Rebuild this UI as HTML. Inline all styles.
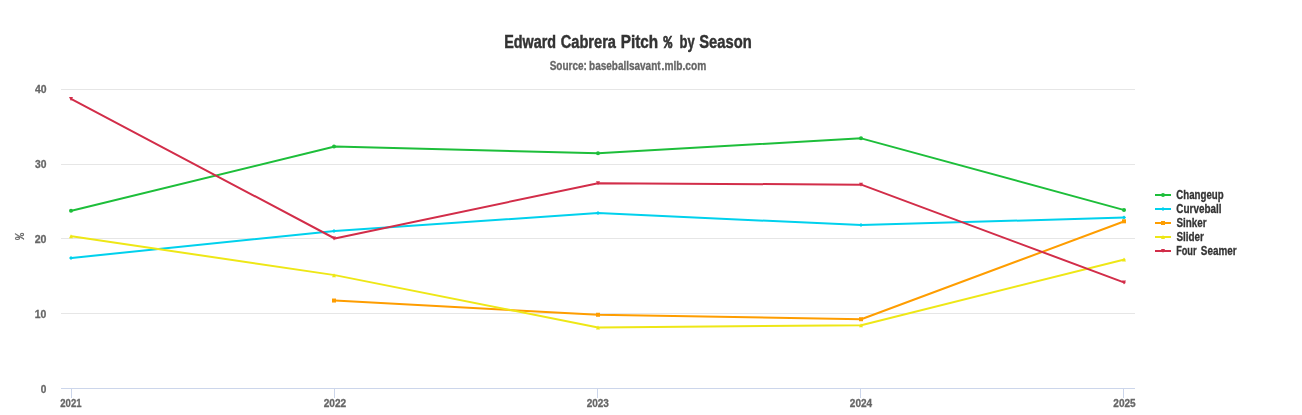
<!DOCTYPE html>
<html lang="en"><head><meta charset="utf-8"><title>Edward Cabrera Pitch % by Season</title>
<style>
html,body{margin:0;padding:0;background:#fff;}
body{width:1302px;height:415px;overflow:hidden;}
svg{display:block;font-family:"Liberation Sans",sans-serif;font-weight:bold;}
.t{font-size:18px;fill:#333333;stroke:#333333;stroke-width:0.45px;}
.s{font-size:12px;fill:#666666;stroke:#666666;stroke-width:0.3px;}
.a{font-size:11.1px;fill:#666666;stroke:#666666;stroke-width:0.3px;}
.l{font-size:12px;fill:#333333;stroke:#333333;stroke-width:0.3px;}
</style></head><body>
<svg width="1302" height="415" viewBox="0 0 1302 415">
<rect x="0" y="0" width="1302" height="415" fill="#ffffff"/>
<path d="M61 89.5L1135 89.5" stroke="#e6e6e6" stroke-width="1" fill="none"/>
<path d="M61 164.5L1135 164.5" stroke="#e6e6e6" stroke-width="1" fill="none"/>
<path d="M61 238.5L1135 238.5" stroke="#e6e6e6" stroke-width="1" fill="none"/>
<path d="M61 313.5L1135 313.5" stroke="#e6e6e6" stroke-width="1" fill="none"/>
<path d="M61 388.5L1135 388.5" stroke="#ccd6eb" stroke-width="1" fill="none"/>
<path d="M71.5 388L71.5 398" stroke="#ccd6eb" stroke-width="1" fill="none"/>
<path d="M334.5 388L334.5 398" stroke="#ccd6eb" stroke-width="1" fill="none"/>
<path d="M597.5 388L597.5 398" stroke="#ccd6eb" stroke-width="1" fill="none"/>
<path d="M860.5 388L860.5 398" stroke="#ccd6eb" stroke-width="1" fill="none"/>
<path d="M1123.5 388L1123.5 398" stroke="#ccd6eb" stroke-width="1" fill="none"/>
<text class="t" y="47.65" ><tspan x="504.26" textLength="51.86" lengthAdjust="spacingAndGlyphs">Edward</tspan> <tspan x="560.73" textLength="55.26" lengthAdjust="spacingAndGlyphs">Cabrera</tspan> <tspan x="620.80" textLength="37.42" lengthAdjust="spacingAndGlyphs">Pitch</tspan> <tspan x="663.55" textLength="8.69" lengthAdjust="spacingAndGlyphs" style="stroke-width:0.7px;font-family:'Liberation Mono',monospace">%</tspan> <tspan x="679.57" textLength="15.18" lengthAdjust="spacingAndGlyphs">by</tspan> <tspan x="699.20" textLength="52.49" lengthAdjust="spacingAndGlyphs">Season</tspan></text>
<text class="s" y="69.7" ><tspan x="549.66" textLength="37.25" lengthAdjust="spacingAndGlyphs">Source:</tspan> <tspan x="589.09" textLength="71.48" lengthAdjust="spacingAndGlyphs">baseballsavant</tspan><tspan x="661.56" textLength="44.72" lengthAdjust="spacingAndGlyphs">.mlb.com</tspan></text>
<text class="s" style="font-family:'Liberation Mono',monospace;font-size:13.5px;stroke-width:0.15px" transform="translate(24.25,240.05) rotate(-90)" x="0" y="0" textLength="7.2" lengthAdjust="spacingAndGlyphs">%</text>
<text class="a" y="93" ><tspan x="34.89" textLength="11.58" lengthAdjust="spacingAndGlyphs">40</tspan></text>
<text class="a" y="168" ><tspan x="34.91" textLength="11.46" lengthAdjust="spacingAndGlyphs">30</tspan></text>
<text class="a" y="243" ><tspan x="34.68" textLength="11.80" lengthAdjust="spacingAndGlyphs">20</tspan></text>
<text class="a" y="318" ><tspan x="34.79" textLength="11.58" lengthAdjust="spacingAndGlyphs">10</tspan></text>
<text class="a" y="393" ><tspan x="40.75" textLength="5.61" lengthAdjust="spacingAndGlyphs">0</tspan></text>
<text class="a" y="407" ><tspan x="60.32" textLength="21.20" lengthAdjust="spacingAndGlyphs">2021</tspan></text>
<text class="a" y="407" ><tspan x="323.65" textLength="22.51" lengthAdjust="spacingAndGlyphs">2022</tspan></text>
<text class="a" y="407" ><tspan x="586.65" textLength="22.31" lengthAdjust="spacingAndGlyphs">2023</tspan></text>
<text class="a" y="407" ><tspan x="849.80" textLength="22.35" lengthAdjust="spacingAndGlyphs">2024</tspan></text>
<text class="a" y="407" ><tspan x="1113.30" textLength="22.33" lengthAdjust="spacingAndGlyphs">2025</tspan></text>
<path d="M71.53 210.84L334.76 146.56L598.0 153.29L861.24 138.34L1124.47 210.09" stroke="#1DBE3A" stroke-width="2" fill="none" stroke-linejoin="round" stroke-linecap="round"/>
<circle cx="71" cy="210.84" r="2" fill="#1DBE3A"/>
<circle cx="334" cy="146.56" r="2" fill="#1DBE3A"/>
<circle cx="598" cy="153.29" r="2" fill="#1DBE3A"/>
<circle cx="861" cy="138.34" r="2" fill="#1DBE3A"/>
<circle cx="1124" cy="210.09" r="2" fill="#1DBE3A"/>
<path d="M71.53 257.94L334.76 231.03L598.0 213.09L861.24 225.05L1124.47 217.57" stroke="#00D1ED" stroke-width="2" fill="none" stroke-linejoin="round" stroke-linecap="round"/>
<path d="M71 255.94L73 257.94L71 259.94L69 257.94Z" fill="#00D1ED"/>
<path d="M334 229.03L336 231.03L334 233.03L332 231.03Z" fill="#00D1ED"/>
<path d="M598 211.09L600 213.09L598 215.09L596 213.09Z" fill="#00D1ED"/>
<path d="M861 223.05L863 225.05L861 227.05L859 225.05Z" fill="#00D1ED"/>
<path d="M1124 215.57L1126 217.57L1124 219.57L1122 217.57Z" fill="#00D1ED"/>
<path d="M334.76 300.54L598.0 314.75L861.24 319.23L1124.47 221.31" stroke="#FE9D00" stroke-width="2" fill="none" stroke-linejoin="round" stroke-linecap="round"/>
<rect x="332" y="298.54" width="4" height="4" fill="#FE9D00"/>
<rect x="596" y="312.75" width="4" height="4" fill="#FE9D00"/>
<rect x="859" y="317.23" width="4" height="4" fill="#FE9D00"/>
<rect x="1122" y="219.31" width="4" height="4" fill="#FE9D00"/>
<path d="M71.53 236.26L334.76 275.13L598.0 327.45L861.24 325.21L1124.47 259.43" stroke="#EEE716" stroke-width="2" fill="none" stroke-linejoin="round" stroke-linecap="round"/>
<path d="M71 234.26L73 238.26L69 238.26Z" fill="#EEE716"/>
<path d="M334 273.13L336 277.13L332 277.13Z" fill="#EEE716"/>
<path d="M598 325.45L600 329.45L596 329.45Z" fill="#EEE716"/>
<path d="M861 323.21L863 327.21L859 327.21Z" fill="#EEE716"/>
<path d="M1124 257.43L1126 261.43L1122 261.43Z" fill="#EEE716"/>
<path d="M71.53 99.09L334.76 238.50L598.0 183.19L861.24 184.68L1124.47 282.60" stroke="#D22D49" stroke-width="2" fill="none" stroke-linejoin="round" stroke-linecap="round"/>
<path d="M69 97.09L73 97.09L71 101.09Z" fill="#D22D49"/>
<path d="M332 236.50L336 236.50L334 240.50Z" fill="#D22D49"/>
<path d="M596 181.19L600 181.19L598 185.19Z" fill="#D22D49"/>
<path d="M859 182.68L863 182.68L861 186.68Z" fill="#D22D49"/>
<path d="M1122 280.60L1126 280.60L1124 284.60Z" fill="#D22D49"/>
<path d="M1155 195L1171 195" stroke="#1DBE3A" stroke-width="2" fill="none"/>
<circle cx="1163" cy="195.00" r="2" fill="#1DBE3A"/>
<text class="l" y="198.8" ><tspan x="1176.35" textLength="47.29" lengthAdjust="spacingAndGlyphs">Changeup</tspan></text>
<path d="M1155 209L1171 209" stroke="#00D1ED" stroke-width="2" fill="none"/>
<path d="M1163 207.00L1165 209.00L1163 211.00L1161 209.00Z" fill="#00D1ED"/>
<text class="l" y="212.8" ><tspan x="1176.34" textLength="45.11" lengthAdjust="spacingAndGlyphs">Curveball</tspan></text>
<path d="M1155 223L1171 223" stroke="#FE9D00" stroke-width="2" fill="none"/>
<rect x="1161" y="221.00" width="4" height="4" fill="#FE9D00"/>
<text class="l" y="226.8" ><tspan x="1176.47" textLength="30.03" lengthAdjust="spacingAndGlyphs">Sinker</tspan></text>
<path d="M1155 237L1171 237" stroke="#EEE716" stroke-width="2" fill="none"/>
<path d="M1163 235.00L1165 239.00L1161 239.00Z" fill="#EEE716"/>
<text class="l" y="240.8" ><tspan x="1176.47" textLength="27.43" lengthAdjust="spacingAndGlyphs">Slider</tspan></text>
<path d="M1155 251L1171 251" stroke="#D22D49" stroke-width="2" fill="none"/>
<path d="M1161 249.00L1165 249.00L1163 253.00Z" fill="#D22D49"/>
<text class="l" y="254.8" ><tspan x="1176.13" textLength="20.46" lengthAdjust="spacingAndGlyphs">Four</tspan> <tspan x="1200.87" textLength="35.73" lengthAdjust="spacingAndGlyphs">Seamer</tspan></text>
</svg></body></html>
